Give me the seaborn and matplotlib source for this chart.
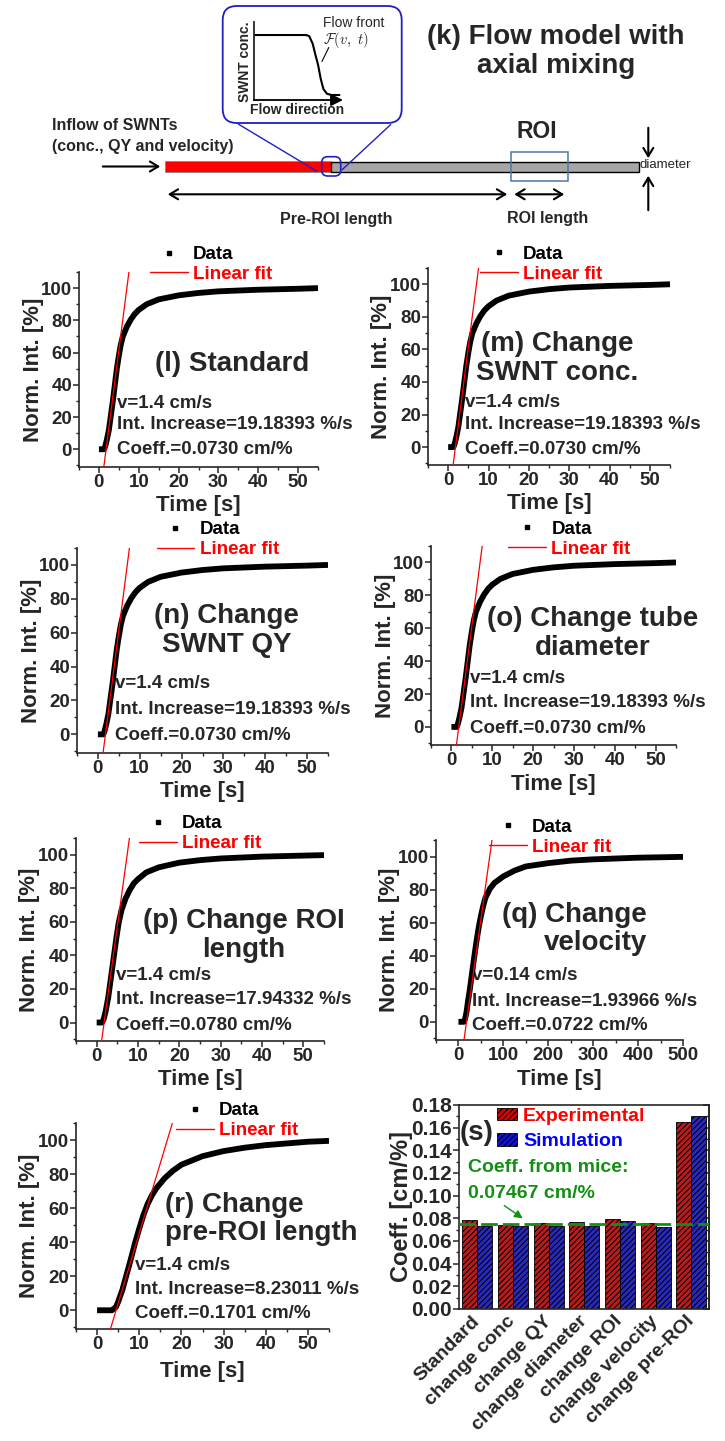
import numpy as np
import pandas as pd
import matplotlib
matplotlib.use("Agg")
import matplotlib.pyplot as plt
import seaborn as sns
from matplotlib.patches import FancyBboxPatch, Rectangle, Patch
from matplotlib.lines import Line2D
from matplotlib.ticker import MultipleLocator, FormatStrFormatter

# ------------------------------------------------------------------ data
# (l) standard / (m) conc / (n) QY / (o) diameter -> identical normalised curves
std_time = [0, 1.3, 1.6, 2.0, 2.5, 3.0, 3.5, 4.0, 4.5, 5.0, 5.5, 6.0, 7.0, 8.0, 9.0,
            10, 12, 15, 20, 25, 30, 40, 50, 55]
std_int = [0, 0, 2, 6, 12, 21, 30, 40, 50, 58, 65, 70, 76, 80.5, 84,
           86.5, 90, 93, 95.5, 97, 98, 99, 99.6, 100]
# (p) change ROI length
roi_time = [0, 1.3, 1.7, 2.2, 2.8, 3.3, 3.8, 4.3, 4.8, 5.3, 6.0, 7.0, 8.0, 9.0, 10,
            12, 15, 20, 25, 30, 40, 50, 55]
roi_int = [0, 0, 2, 7, 15, 24, 33, 42, 51, 59, 67, 74, 79, 83, 85.5,
           89.5, 92.5, 95.3, 96.8, 97.8, 98.9, 99.5, 99.8]
# (q) change velocity
vel_time = [0, 12, 15, 18, 21, 25, 30, 35, 40, 45, 50, 55, 60, 70, 80, 100, 125,
            150, 200, 250, 300, 400, 500]
vel_int = [0, 0, 2, 6, 12, 19, 29, 39, 48.5, 57, 64, 70, 75, 80.5, 84, 88, 91.5,
           94, 96, 97.5, 98.3, 99.3, 99.8]
# (r) change pre-ROI length
pre_time = [0, 3.5, 4.5, 5, 6, 7, 8, 9, 10, 11, 12, 13, 14, 16, 18, 20, 25, 30,
            35, 40, 45, 50, 55]
pre_int = [0, 0, 2, 5, 12, 21, 30, 39.5, 48, 56, 62.5, 67.5, 71.5, 77.5, 82, 85.5,
           90.5, 93.5, 95.5, 97, 98, 99, 99.5]

# linear fits: slope [%/s] and zero-crossing time [s]
fit_slope = [19.18393, 19.18393, 19.18393, 19.18393, 17.94332, 1.93966, 8.23011]
fit_t0 = [1.8, 1.8, 1.8, 1.8, 1.8, 18.0, 4.5]

titles = ["(l) Standard", "(m) Change\nSWNT conc.", "(n) Change\nSWNT QY",
          "(o) Change tube\ndiameter", "(p) Change ROI\nlength",
          "(q) Change\nvelocity", "(r) Change\npre-ROI length"]
ann_std = ["v=1.4 cm/s", "Int. Increase=19.18393 %/s", "Coeff.=0.0730 cm/%"]
ann_roi = ["v=1.4 cm/s", "Int. Increase=17.94332 %/s", "Coeff.=0.0780 cm/%"]
ann_vel = ["v=0.14 cm/s", "Int. Increase=1.93966 %/s", "Coeff.=0.0722 cm/%"]
ann_pre = ["v=1.4 cm/s", "Int. Increase=8.23011 %/s", "Coeff.=0.1701 cm/%"]

# (s) bar chart
conditions = ["Standard", "change conc", "change QY", "change diameter",
              "change ROI", "change velocity", "change pre-ROI"]
coeff_exp = [0.0785, 0.0741, 0.0756, 0.0770, 0.0794, 0.0759, 0.1647]
coeff_sim = [0.0730, 0.0730, 0.0730, 0.0730, 0.0780, 0.0722, 0.1701]
series = ["Experimental", "Simulation"]
mice_coeff = 0.07467

# (k) schematic flow-front profile (normalised position, normalised conc.)
front_pos = [0, 0.584, 0.62, 0.66, 0.69, 0.72, 0.75, 0.78, 0.82, 0.87, 0.96]
front_conc = [0.833, 0.833, 0.82, 0.72, 0.58, 0.45, 0.27, 0.14, 0.08, 0.064, 0.064]

# ------------------------------------------------------------------ style
sns.set_theme(style="ticks")
plt.rcParams["font.family"] = ["Liberation Sans", "DejaVu Sans"]
plt.rcParams["font.weight"] = "bold"
plt.rcParams["axes.labelweight"] = "bold"
plt.rcParams["mathtext.fontset"] = "cm"
plt.rcParams["hatch.linewidth"] = 0.75
plt.rcParams["hatch.color"] = "black"
plt.rcParams["axes.linewidth"] = 1.2

W, H = 725, 1441
fig = plt.figure(figsize=(W / 100, H / 100), dpi=100)
fig.patch.set_facecolor("white")


def axes_px(l, t, r, b):
    return fig.add_axes([l / W, 1 - b / H, (r - l) / W, (b - t) / H])


def frac(box, px, py):
    l, t, r, b = box
    return (px - l) / (r - l), (b - py) / (b - t)


TICK = 13.5
LAB = 16
TITLE = 20
ANN = 13.5
RED = "#ff0000"
BLUE = "#0000ff"
GREEN = "#139013"
DBLUE = "#1f1fc4"
BAR_RED = "#d80000"
BAR_BLUE = "#1010d8"
HATCH = "//////"

# ------------------------------------------------------------------ (k) schematic
ax0 = axes_px(0, 0, 725, 240)
ax0.set_xlim(0, 725)
ax0.set_ylim(240, 0)
ax0.axis("off")

ax0.add_patch(FancyBboxPatch((222.7, 6), 179, 117,
                             boxstyle="round,pad=0,rounding_size=14",
                             fc="white", ec=DBLUE, lw=1.3))
ax0.annotate("", xy=(319.3, 172.7), xytext=(236, 122.7),
             arrowprops=dict(arrowstyle="-", color=DBLUE, lw=1.0))
ax0.annotate("", xy=(340, 171.7), xytext=(392.7, 122.7),
             arrowprops=dict(arrowstyle="-", color=DBLUE, lw=1.0))
ax0.add_patch(Rectangle((165, 161), 166, 11.3, fc="#ff0000", ec="#888888", lw=0.6))
ax0.add_patch(Rectangle((331, 162), 308.3, 10.3, fc="#a6a6a6", ec="black", lw=1.0))
ax0.add_patch(FancyBboxPatch((321.7, 156.7), 19, 19.3,
                             boxstyle="round,pad=0,rounding_size=6",
                             fc="none", ec=DBLUE, lw=1.2, zorder=5))
ax0.add_patch(Rectangle((511, 152.3), 57.3, 28.4, fc="none", ec="#5077aa", lw=1.1,
                        zorder=5))

arr = dict(arrowstyle="->,head_length=0.5,head_width=0.3", color="black", lw=1.5)
arr2 = dict(arrowstyle="<->,head_length=0.5,head_width=0.3", color="black", lw=1.5)
ax0.annotate("", xy=(163, 166.5), xytext=(100, 166.5), arrowprops=arr)
ax0.annotate("", xy=(510, 194.3), xytext=(165, 194.3), arrowprops=arr2)
ax0.annotate("", xy=(567, 194.3), xytext=(511.5, 194.3), arrowprops=arr2)
ax0.annotate("", xy=(648.3, 161), xytext=(648.3, 125), arrowprops=arr)
ax0.annotate("", xy=(648.3, 173), xytext=(648.3, 213), arrowprops=arr)

ax0.text(52, 125, "Inflow of SWNTs", fontsize=11.5, ha="left", va="center")
ax0.text(52, 147, "(conc., QY and velocity)", fontsize=11.5, ha="left", va="center")
ax0.text(537, 131.7, "ROI", fontsize=16.5, ha="center", va="center")
ax0.text(336.7, 219.3, "Pre-ROI length", fontsize=11.5, ha="center", va="center")
ax0.text(547.5, 218.3, "ROI length", fontsize=11.5, ha="center", va="center")
ax0.text(639.5, 165.5, "diameter", fontsize=9.5, ha="left", va="center",
         fontweight="normal")
ax0.text(556, 51.5, "(k) Flow model with\naxial mixing", fontsize=20, ha="center",
         va="center", linespacing=1.15)
ax0.text(245, 62, "SWNT conc.", fontsize=10, rotation=90, ha="center", va="center")
ax0.text(297.5, 110, "Flow direction", fontsize=10, ha="center", va="center")
ax0.text(323, 22.7, "Flow front", fontsize=10, ha="left", va="center",
         fontweight="normal")
ax0.text(323, 39.5, r"$\mathcal{F}(v,\ t)$", fontsize=10.5, ha="left", va="center")
ax0.annotate("", xy=(320.7, 64), xytext=(330, 45),
             arrowprops=dict(arrowstyle="-", color="black", lw=0.8))

axi = axes_px(254, 22, 343, 100)
axi.set_facecolor("none")
sns.lineplot(x=front_pos, y=front_conc, ax=axi, color="black", lw=1.5, sort=False)
axi.set_xlim(0, 1)
axi.set_ylim(0, 1)
for s in ["top", "right", "bottom"]:
    axi.spines[s].set_visible(False)
axi.spines["left"].set_linewidth(1.3)
axi.set_xticks([])
axi.set_yticks([])
axi.annotate("", xy=(1.0, 0), xytext=(0, 0), xycoords="axes fraction",
             arrowprops=dict(arrowstyle="-|>,head_length=0.6,head_width=0.3",
                             color="black", lw=1.3, shrinkA=0, shrinkB=0))

# ------------------------------------------------------------------ time traces
panels = [
    dict(box=(79, 272, 318, 467), t=std_time, y=std_int, k=0, ann=ann_std,
         title_xy=(231.7, 364), ha="center", ann_x=116.7, ann_y=(403.3, 424.3, 449.3),
         leg=(195, 253, 276), xl=39),
    dict(box=(428, 268, 670, 465), t=std_time, y=std_int, k=1, ann=ann_std,
         title_xy=(557, 358.3), ha="center", ann_x=465, ann_y=(402.7, 424.3, 449.3),
         leg=(525, 252.7, 276), xl=39),
    dict(box=(77, 548, 328, 753), t=std_time, y=std_int, k=2, ann=ann_std,
         title_xy=(226.7, 630), ha="center", ann_x=115, ann_y=(683.3, 710, 735),
         leg=(201.7, 527.3, 552.3), xl=39),
    dict(box=(431, 546, 676, 745), t=std_time, y=std_int, k=3, ann=ann_std,
         title_xy=(592.3, 633.3), ha="center", ann_x=470, ann_y=(678.3, 702.7, 728.3),
         leg=(553.3, 526.7, 551.7), xl=39),
    dict(box=(76, 838, 324, 1041), t=roi_time, y=roi_int, k=4, ann=ann_roi,
         title_xy=(244, 935), ha="center", ann_x=116, ann_y=(975, 999.3, 1025),
         leg=(184, 821.7, 846), xl=39),
    dict(box=(436, 840, 683, 1040), t=vel_time, y=vel_int, k=5, ann=ann_vel,
         title_xy=(646.7, 929), ha="right", ann_x=472, ann_y=(975, 1001.7, 1025),
         leg=(534, 824, 850), xmin=-50, xmax=500, xstep=100, xl=39),
    dict(box=(76, 1123, 329, 1329), t=pre_time, y=pre_int, k=6, ann=ann_pre,
         title_xy=(165, 1219), ha="left", ann_x=135, ann_y=(1265, 1290, 1313.3),
         leg=(221, 1108.3, 1133.3), xl=42),
]

for p in panels:
    box = p["box"]
    l, t, r, b = box
    ax = axes_px(*box)
    ax.set_facecolor("none")
    k = p["k"]
    xmin, xmax, xstep = p.get("xmin", -5), p.get("xmax", 55), p.get("xstep", 10)
    sns.lineplot(x=p["t"], y=p["y"], ax=ax, color="black", lw=4.2, sort=False,
                 zorder=4, solid_capstyle="butt")
    fit_y = np.array([-20.0, 130.0])
    fit_t = fit_t0[k] + fit_y / fit_slope[k]
    sns.lineplot(x=fit_t, y=fit_y, ax=ax, color="red", lw=0.9, sort=False, zorder=5)
    ax.set_ylim(-11, 110)
    ax.xaxis.set_minor_locator(MultipleLocator(xstep / 2))
    ax.yaxis.set_major_locator(MultipleLocator(20))
    ax.yaxis.set_minor_locator(MultipleLocator(10))
    ax.set_xticks(np.arange(0, xmax + 1, xstep))
    ax.set_xlim(xmin, xmax)
    sns.despine(ax=ax)
    ax.tick_params(which="major", direction="out", length=4, width=1.1,
                   labelsize=TICK, pad=1.0)
    ax.tick_params(which="minor", direction="out", length=2.5, width=1.0)
    for lbl in ax.get_xticklabels() + ax.get_yticklabels():
        lbl.set_fontweight("bold")
    ax.set_xlabel("Time [s]", fontsize=LAB, fontweight="bold")
    ax.set_ylabel("Norm. Int. [%]", fontsize=LAB, fontweight="bold")
    ax.xaxis.set_label_coords(0.5, -p["xl"] / (b - t))
    ax.xaxis.label.set_va("center")
    ax.yaxis.set_label_coords(-46 / (r - l), 0.5)
    ax.yaxis.label.set_va("center")

    tx, ty = frac(box, *p["title_xy"])
    ax.text(tx, ty, titles[k], transform=ax.transAxes, fontsize=TITLE,
            ha=p["ha"], va="center", multialignment=p["ha"], linespacing=1.15,
            zorder=1, clip_on=False)
    for line, py in zip(p["ann"], p["ann_y"]):
        ax_x, ax_y = frac(box, p["ann_x"], py)
        ax.text(ax_x, ax_y, line, transform=ax.transAxes, fontsize=ANN,
                ha="left", va="center", zorder=1, clip_on=False)

    lx, ly1, ly2 = p["leg"]
    hx, hy = frac(box, lx - 45, (ly1 + ly2) / 2)
    handles = [Line2D([], [], marker="s", ls="none", color="black", markersize=3.5),
               Line2D([], [], color="red", lw=1.0)]
    ax.legend(handles, ["Data", "Linear fit"], loc="center left",
              bbox_to_anchor=(hx, hy), frameon=False, handlelength=2.0,
              handletextpad=0.3, labelspacing=0.15, borderpad=0,
              borderaxespad=0, prop=dict(size=ANN, weight="bold"),
              labelcolor=["black", "red"])

# ------------------------------------------------------------------ (s) bars
sbox = (459.3, 1105, 709.3, 1309)
axs = axes_px(*sbox)
df = pd.DataFrame({
    "condition": conditions * 2,
    "coeff": coeff_exp + coeff_sim,
    "source": [series[0]] * len(conditions) + [series[1]] * len(conditions),
})
sns.barplot(data=df, x="condition", y="coeff", hue="source", hue_order=series,
            order=conditions, palette=[BAR_RED, BAR_BLUE], width=0.84,
            edgecolor="black", linewidth=0.6, ax=axs, legend=False, zorder=2)
for bar in axs.patches:
    bar.set_hatch(HATCH)
axs.axhline(mice_coeff, color=GREEN, lw=2.0, ls=(0, (6, 1.8)), zorder=6)
axs.set_xlim(-0.5, 6.5)
axs.set_ylim(0, 0.18)
axs.yaxis.set_major_locator(MultipleLocator(0.02))
axs.yaxis.set_minor_locator(MultipleLocator(0.01))
axs.yaxis.set_major_formatter(FormatStrFormatter("%.2f"))
axs.tick_params(axis="y", which="major", direction="out", length=4, width=1.1,
                labelsize=15, pad=1.5)
axs.tick_params(axis="y", which="minor", direction="out", length=2.5, width=1.0)
axs.tick_params(axis="x", length=0, labelsize=14, pad=7)
for lbl in axs.get_yticklabels():
    lbl.set_fontweight("bold")
for lbl in axs.get_xticklabels():
    lbl.set_rotation(45)
    lbl.set_ha("right")
    lbl.set_va("center")
    lbl.set_rotation_mode("anchor")
    lbl.set_fontweight("bold")
sec = axs.secondary_yaxis("right")
sec.yaxis.set_major_locator(MultipleLocator(0.02))
sec.yaxis.set_minor_locator(MultipleLocator(0.01))
sec.tick_params(which="major", direction="in", length=4, width=1.1, labelright=False)
sec.tick_params(which="minor", direction="in", length=2.5, width=1.0)
axs.set_xlabel("")
axs.set_ylabel("Coeff. [cm/%]", fontsize=17, fontweight="bold")
axs.yaxis.set_label_coords(-57.6 / 250, 0.5)
axs.yaxis.label.set_va("center")

axs.text(0.0, frac(sbox, 0, 1133)[1], "(s)", transform=axs.transAxes, fontsize=20,
         ha="left", va="center", zorder=7)
axs.text(frac(sbox, 468, 0)[0], frac(sbox, 0, 1168)[1], "Coeff. from mice:",
         transform=axs.transAxes, fontsize=14, color=GREEN, ha="left", va="center")
axs.text(frac(sbox, 468, 0)[0], frac(sbox, 0, 1193)[1], "0.07467 cm/%",
         transform=axs.transAxes, fontsize=14, color=GREEN, ha="left", va="center")
axs.annotate("", xy=frac(sbox, 525, 1220), xytext=frac(sbox, 502, 1204),
             xycoords="axes fraction", textcoords="axes fraction",
             arrowprops=dict(arrowstyle="-|>,head_length=0.4,head_width=0.2",
                             color=GREEN, lw=1.0))
bar_handles = [Patch(facecolor=BAR_RED, edgecolor="black", hatch=HATCH, lw=0.6),
               Patch(facecolor=BAR_BLUE, edgecolor="black", hatch=HATCH, lw=0.6)]
lx, ly = frac(sbox, 497, 1129)
axs.legend(bar_handles, series, loc="center left", bbox_to_anchor=(lx, ly),
           frameon=False, handlelength=1.05, handleheight=0.6, handletextpad=0.3,
           labelspacing=0.45, borderpad=0, borderaxespad=0,
           prop=dict(size=14, weight="bold"), labelcolor=[RED, BLUE])

fig.savefig("out.png", dpi=100, facecolor="white")
